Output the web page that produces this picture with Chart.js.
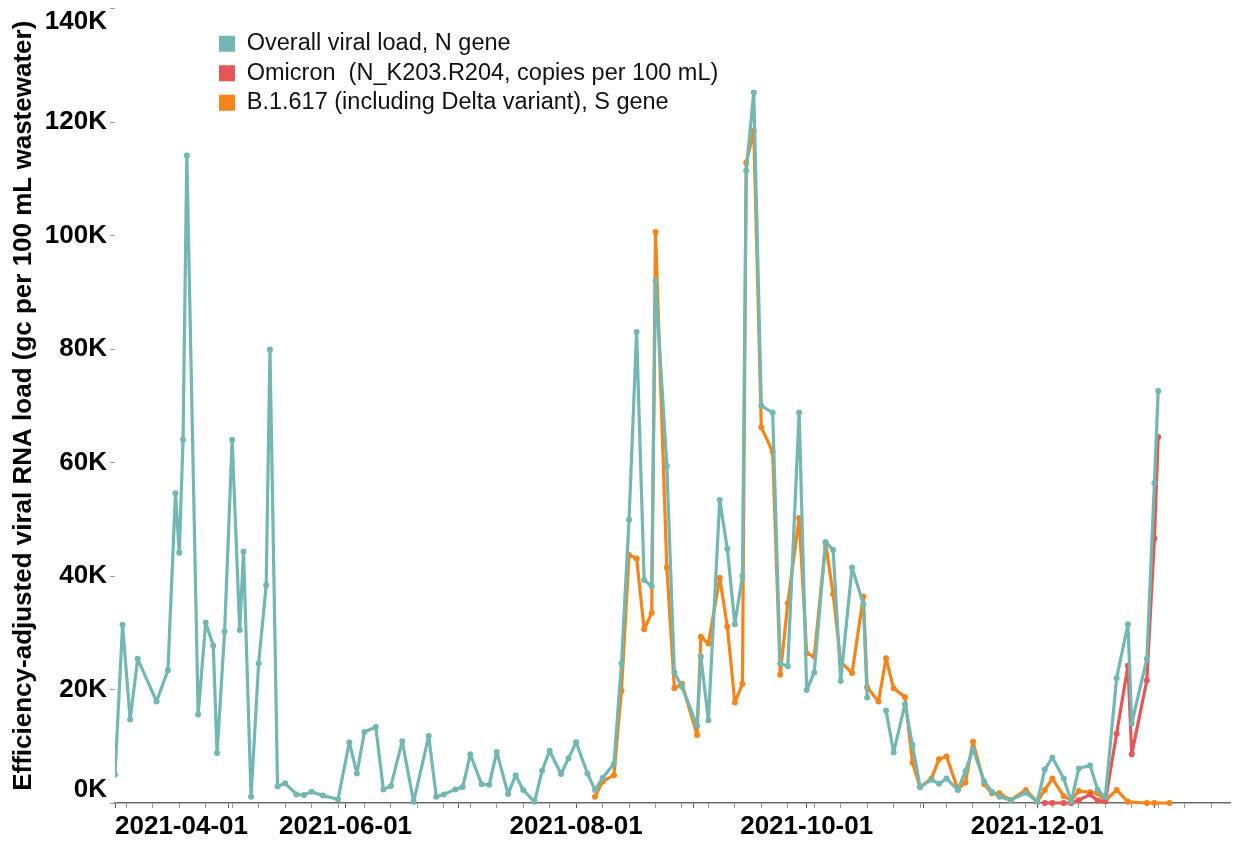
<!DOCTYPE html>
<html>
<head>
<meta charset="utf-8">
<title>Wastewater viral RNA load</title>
<script src="https://cdn.jsdelivr.net/npm/chart.js@4.4.0/dist/chart.umd.min.js"></script>
<style>
  html, body { margin: 0; padding: 0; background: #ffffff; }
  #wrap { width: 1233px; height: 844px; }
</style>
</head>
<body>
<div id="wrap"><canvas id="chart" width="1233" height="844"></canvas></div>
<script>
// ---- Series: sampling dates and efficiency-adjusted RNA load (gc per 100 mL) ----
const overallDates = [
  '2021-04-01','2021-04-03','2021-04-05','2021-04-07','2021-04-12','2021-04-15','2021-04-17','2021-04-18','2021-04-19','2021-04-20','2021-04-23','2021-04-25','2021-04-27','2021-04-28','2021-04-30',
  '2021-05-02','2021-05-04','2021-05-05','2021-05-07','2021-05-09','2021-05-11','2021-05-12','2021-05-14','2021-05-16','2021-05-19','2021-05-21','2021-05-23','2021-05-26','2021-05-30',
  '2021-06-02','2021-06-04','2021-06-06','2021-06-09','2021-06-11','2021-06-13','2021-06-16','2021-06-19','2021-06-23','2021-06-25','2021-06-27','2021-06-30',
  '2021-07-02','2021-07-04','2021-07-07','2021-07-09','2021-07-11','2021-07-14','2021-07-16','2021-07-18','2021-07-21','2021-07-23','2021-07-25','2021-07-28','2021-07-30',
  '2021-08-01','2021-08-04','2021-08-06','2021-08-08','2021-08-11','2021-08-13','2021-08-15','2021-08-17','2021-08-19','2021-08-21','2021-08-22','2021-08-25','2021-08-27','2021-08-29',
  '2021-09-02','2021-09-03','2021-09-05','2021-09-08','2021-09-10','2021-09-12','2021-09-14','2021-09-15','2021-09-17','2021-09-19','2021-09-22','2021-09-24','2021-09-26','2021-09-29',
  '2021-10-01','2021-10-03','2021-10-06','2021-10-08','2021-10-10','2021-10-13','2021-10-16','2021-10-17','2021-10-20','2021-10-22','2021-10-24','2021-10-27','2021-10-29','2021-10-31',
  '2021-11-03','2021-11-05','2021-11-07','2021-11-10','2021-11-12','2021-11-14','2021-11-17','2021-11-19','2021-11-21','2021-11-24','2021-11-28',
  '2021-12-01','2021-12-03','2021-12-05','2021-12-08','2021-12-10','2021-12-12','2021-12-15','2021-12-17','2021-12-19','2021-12-22','2021-12-25','2021-12-26','2021-12-30',
  '2022-01-01','2022-01-02'
];
const overallValues = [
  5000, 31400, 14700, 25400, 17900, 23400, 54600, 44100, 64000, 114100, 15600, 31800, 27700, 8800, 30200,
  64000, 30500, 44300, 1100, 24600, 38400, 79900, 2900, 3500, 1500, 1400, 2000, 1300, 650,
  10700, 5200, 12500, 13400, 2400, 3000, 10900, 200, 11800, 1100, 1500, 2400,
  2800, 8600, 3300, 3200, 9000, 1600, 4900, 2300, 200, 5700, 9200, 5100, 7900,
  10700, 5200, 2300, 4400, 6900, 24600, 49900, 83000, 39300, 38200, 92000, 59400, 23000, 20500,
  13600, 25800, 14600, 53400, 44800, 31500, 40000, 111400, 125200, 70000, 68800, 24600, 24100, 68800,
  19900, 23000, 46000, 44600, 21500, 41500, 35000, 18600, null, 16300, 8900, 17400, 10200, 2800,
  4100, 3400, 4300, 2300, 5600, 9500, 3800, 2000, 1100, 500, 1800,
  200, 5900, 8000, 4300, 300, 6100, 6600, 2300, 1000, 22000, 31500, 14000, 25400,
  56400, 72600
];

const omicronDates = [
  '2021-12-03','2021-12-05','2021-12-08','2021-12-10','2021-12-12','2021-12-15','2021-12-17','2021-12-19','2021-12-22','2021-12-25','2021-12-26','2021-12-30',
  '2022-01-01','2022-01-02'
];
const omicronValues = [0, 0, 0, 0, 500, 1500, 400, 300, 12200, 24200, 8600, 21600, 46600, 64500];

const deltaDates = [
  '2021-08-06','2021-08-08','2021-08-11','2021-08-13','2021-08-15','2021-08-17','2021-08-19','2021-08-21','2021-08-22','2021-08-25','2021-08-27','2021-08-29',
  '2021-09-02','2021-09-03','2021-09-05','2021-09-08','2021-09-10','2021-09-12','2021-09-14','2021-09-15','2021-09-17','2021-09-19','2021-09-22','2021-09-24','2021-09-26','2021-09-29',
  '2021-10-01','2021-10-03','2021-10-06','2021-10-08','2021-10-10','2021-10-13','2021-10-16','2021-10-17','2021-10-20','2021-10-22','2021-10-24','2021-10-27','2021-10-29','2021-10-31',
  '2021-11-03','2021-11-05','2021-11-07','2021-11-10','2021-11-12','2021-11-14','2021-11-17','2021-11-19','2021-11-21','2021-11-24','2021-11-28',
  '2021-12-01','2021-12-03','2021-12-05','2021-12-08','2021-12-10','2021-12-12','2021-12-15','2021-12-17','2021-12-19','2021-12-22','2021-12-25','2021-12-30',
  '2022-01-01','2022-01-05'
];
const deltaValues = [
  1100, 3800, 4900, 19800, 43700, 43100, 30600, 33500, 100600, 41500, 20200, 21000,
  12000, 29300, 28100, 39700, 31100, 17700, 21000, 112800, 118500, 66200, 61900, 22600, 35200, 50200,
  26400, 25800, 45800, 36800, 24900, 22900, 36400, 20400, 17900, 25500, 20200, 18700, 7100, 2800,
  4300, 7700, 8200, 2400, 3600, 10800, 3300, 1700, 1700, 500, 2300,
  200, 2300, 4300, 1200, 500, 2100, 1900, 1700, 400, 2300, 200, 0,
  0, 0
];

// ---- Axis tick values and labels ----
const yTickValues = [0, 20000, 40000, 60000, 80000, 100000, 120000, 140000];
const xTickLabels = ['2021-04-01', '2021-06-01', '2021-08-01', '2021-10-01', '2021-12-01'];
const xDomain = ['2021-04-01', '2022-01-21'];

const seriesNames = [
  'Overall viral load, N gene',
  'Omicron  (N_K203.R204, copies per 100 mL)',
  'B.1.617 (including Delta variant), S gene'
];
const yTitle = 'Efficiency-adjusted viral RNA load (gc per 100 mL wastewater)';

// ---- Helpers ----
const MS_DAY = 86400000;
const ORIGIN = Date.parse(xDomain[0] + 'T00:00:00Z');
const toDay = (s) => Math.round((Date.parse(s + 'T00:00:00Z') - ORIGIN) / MS_DAY);
const toPoints = (dates, values) => dates.map((d, i) => ({ x: toDay(d), y: values[i] }));

const xMin = toDay(xDomain[0]);
const xMax = toDay(xDomain[1]);

// Month starts (major ticks) and Sundays (minor ticks) across the domain
const monthDays = [];
for (let m = 3; ; m++) {
  const d = Date.UTC(2021, m, 1);
  const day = Math.round((d - ORIGIN) / MS_DAY);
  if (day > xMax) break;
  monthDays.push(day);
}
const sundayDays = [];
{
  const startDow = new Date(ORIGIN).getUTCDay();
  const first = (7 - startDow) % 7;
  for (let d = first; d <= xMax; d += 7) sundayDays.push(d);
}
const xTickDays = Array.from(new Set([...monthDays, ...sundayDays])).sort((a, b) => a - b);
const labelDays = new Map(xTickLabels.map((s) => [toDay(s), s]));
const monthSet = new Set(monthDays);

const TEAL = '#72b7b2';
const RED = '#e45756';
const ORANGE = '#f58518';
const FONT = "'Liberation Sans', Arial, Helvetica, sans-serif";

Chart.defaults.font.family = FONT;

// Keeps the end labels of the value axis inside the plot height
const edgeLabels = {
  id: 'edgeLabels',
  beforeDraw(chart) {
    const s = chart.scales.y;
    const items = s.getLabelItems();
    if (!items.length) return;
    items.forEach((it) => {
      if (it.label === s.ticks[0].label) it.options.textBaseline = 'bottom';
      if (it.label === s.ticks[s.ticks.length - 1].label) it.options.textBaseline = 'top';
    });
  }
};

// Places the legend block inside the plot, near the top left
const legendPlacement = {
  id: 'legendPlacement',
  afterLayout(chart) {
    const lg = chart.legend;
    if (!lg) return;
    lg.left = 213;
    lg.top = 26;
    lg.right = lg.left + lg.width;
    lg.bottom = chart.chartArea.bottom;
  }
};

const lineStyle = (color) => ({
  borderColor: color,
  backgroundColor: color,
  pointBackgroundColor: color,
  pointBorderColor: color,
  borderWidth: 3.2,
  borderJoinStyle: 'round',
  borderCapStyle: 'round',
  pointRadius: 3,
  pointBorderWidth: 0,
  pointHoverRadius: 3,
  tension: 0,
  spanGaps: false,
  clip: { left: 0, top: false, right: false, bottom: false }
});

new Chart(document.getElementById('chart'), {
  type: 'line',
  data: {
    datasets: [
      { label: seriesNames[0], data: toPoints(overallDates, overallValues), ...lineStyle(TEAL) },
      { label: seriesNames[1], data: toPoints(omicronDates, omicronValues), ...lineStyle(RED) },
      { label: seriesNames[2], data: toPoints(deltaDates, deltaValues), ...lineStyle(ORANGE) }
    ]
  },
  options: {
    responsive: false,
    animation: false,
    events: [],
    layout: { padding: { top: 8.5, left: 0, right: 0, bottom: 0 } },
    plugins: {
      tooltip: { enabled: false },
      legend: {
        position: 'chartArea',
        align: 'start',
        labels: {
          font: { size: 23.5, family: FONT },
          color: '#111',
          boxWidth: 16,
          boxHeight: 16,
          padding: 6,
          generateLabels: (chart) => chart.data.datasets.map((ds, i) => ({
            text: ds.label,
            fillStyle: ds.borderColor,
            strokeStyle: ds.borderColor,
            lineWidth: 0,
            hidden: false,
            fontColor: '#111',
            datasetIndex: i
          }))
        }
      }
    },
    scales: {
      x: {
        type: 'linear',
        min: xMin,
        max: xMax,
        afterBuildTicks: (s) => { s.ticks = xTickDays.map((v) => ({ value: v })); },
        afterFit: (s) => { s.height = 41; s.paddingLeft = 0; s.paddingRight = 0; },
        ticks: {
          autoSkip: false,
          maxRotation: 0,
          minRotation: 0,
          align: 'inner',
          padding: 3,
          color: '#000',
          font: { size: 26, weight: 'bold', family: FONT },
          callback: (v) => labelDays.get(v) || ''
        },
        grid: {
          drawOnChartArea: false,
          drawTicks: true,
          tickLength: 5,
          lineWidth: 1,
          color: (ctx) => (ctx.tick && monthSet.has(ctx.tick.value)) ? '#555' : '#9a9a9a'
        },
        border: { display: true, color: '#6a6a6a', width: 1.5 }
      },
      y: {
        min: 0,
        max: yTickValues[yTickValues.length - 1],
        afterBuildTicks: (s) => { s.ticks = yTickValues.map((v) => ({ value: v })); },
        afterFit: (s) => { s.width = 115; s.paddingTop = 0; s.paddingBottom = 0; },
        ticks: {
          padding: 3,
          color: '#000',
          font: { size: 26, weight: 'bold', family: FONT },
          callback: (v) => (v / 1000) + 'K'
        },
        grid: {
          drawOnChartArea: false,
          drawTicks: true,
          tickLength: 5,
          lineWidth: 1,
          color: '#a0a0a0'
        },
        border: { display: false },
        title: {
          display: true,
          text: yTitle,
          color: '#000',
          font: { size: 26, weight: 'bold', family: FONT, lineHeight: 1.2 },
          padding: { top: 8, bottom: 0 }
        }
      }
    }
  },
  plugins: [edgeLabels, legendPlacement]
});
</script>
</body>
</html>
